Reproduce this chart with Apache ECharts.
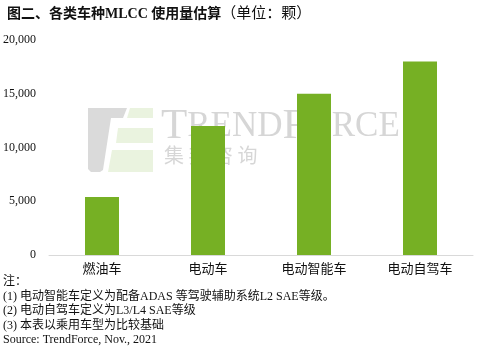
<!DOCTYPE html>
<html><head><meta charset="utf-8">
<script src="https://cdn.jsdelivr.net/npm/echarts@6/dist/echarts.min.js"></script>
<style>html,body{margin:0;padding:0;background:#fff}#c{width:480px;height:347px}</style>
</head><body><div id="c"></div>
<script>
const categories = ['燃油车','电动车','电动智能车','电动自驾车'];
const mlccCount = [5400, 12000, 15000, 18000];
const yTicks = [0, 5000, 10000, 15000, 20000];
const titleMain = '图二、各类车种MLCC 使用量估算';
const titleUnit = '（单位：颗）';
const notes = ['注：','(1) 电动智能车定义为配备ADAS 等驾驶辅助系统L2 SAE等级。','(2) 电动自驾车定义为L3/L4 SAE等级','(3) 本表以乘用车型为比较基础','Source: TrendForce, Nov., 2021'];

const serif = '"Liberation Serif","Noto Sans CJK SC",serif';
const chart = echarts.init(document.getElementById('c'));
const noteEls = notes.map((t,i)=>({type:'text',left:3,top:276+i*14.5,style:{text:t,font:'12px '+serif,fill:'#111'}}));
chart.setOption({
  animation:false,
  title:{text:'{b|'+titleMain+'}{r|'+titleUnit+'}',left:2,top:2,textStyle:{rich:{
    b:{fontFamily:serif,fontSize:14,fontWeight:'bold',color:'#111'},
    r:{fontFamily:serif,fontSize:15,fontWeight:'normal',color:'#111'}}}},
  grid:{left:49,right:7,top:40,bottom:92},
  xAxis:{type:'category',data:categories,axisTick:{show:false},axisLine:{lineStyle:{color:'#d9d9d9'}},
    axisLabel:{fontFamily:'"Noto Sans CJK SC",sans-serif',fontSize:13,color:'#111',margin:7}},
  yAxis:{type:'value',min:yTicks[0],max:yTicks[yTicks.length-1],interval:5000,splitLine:{show:false},
    axisLabel:{fontFamily:serif,fontSize:12,color:'#111',margin:13,formatter:v=>v.toLocaleString('en-US')}},
  series:[{type:'bar',data:mlccCount,barWidth:34,itemStyle:{color:'#76b024'}}],
  graphic:[
    {type:'group',z:100,children:[
      {type:'polygon',shape:{points:[[88,108],[127,108],[123,118],[111,118],[103,170],[100,172],[91,172],[88,169]]},style:{fill:'rgba(150,150,150,0.35)'}},
      {type:'polygon',shape:{points:[[130,108],[153,108],[153,118],[127,118]]},style:{fill:'rgba(160,200,110,0.22)'}},
      {type:'polygon',shape:{points:[[118,128],[153,128],[153,143],[116,143]]},style:{fill:'rgba(160,200,110,0.22)'}},
      {type:'polygon',shape:{points:[[112,150],[153,150],[153,172],[108,172]]},style:{fill:'rgba(160,200,110,0.22)'}},
      {type:'text',left:161,top:105,style:{rich:{b:{fontFamily:'"Liberation Serif",serif',fontSize:43,fill:'rgba(120,120,120,0.3)'},s:{fontFamily:'"Liberation Serif",serif',fontSize:35,fill:'rgba(120,120,120,0.3)'}},text:'{b|T}{s|REND}{b|F}{s|ORCE}'}},
      {type:'text',left:164,top:145,style:{text:'集 邦 咨 询',font:'20px "Noto Sans CJK SC",sans-serif',fill:'rgba(120,120,120,0.3)'}}
    ]},
    ...noteEls
  ]
});
</script></body></html>
